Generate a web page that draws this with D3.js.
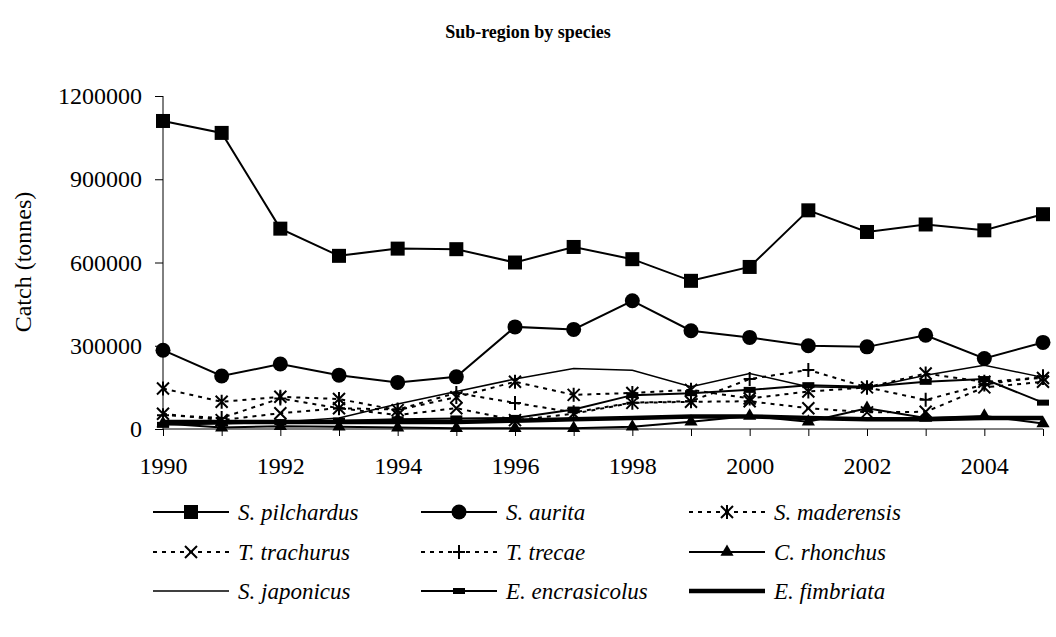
<!DOCTYPE html>
<html>
<head>
<meta charset="utf-8">
<script src="https://cdn.jsdelivr.net/npm/d3@7"></script>
<style>
  body { margin: 0; background: #fff; }
  svg text { font-family: "Liberation Serif", "Times New Roman", Times, serif; }
</style>
</head>
<body>
<svg id="chart" width="1056" height="637"></svg>
<script>
const years = [1990, 1991, 1992, 1993, 1994, 1995, 1996, 1997, 1998, 1999, 2000, 2001, 2002, 2003, 2004, 2005]
const yTicks = [0, 300000, 600000, 900000, 1200000]

// catch in tonnes
const pilchardus = [1110000, 1067000, 722000, 624000, 650000, 648000, 600000, 656000, 612000, 534000, 584000, 788000, 710000, 737000, 716000, 774000]
const aurita = [284000, 191000, 234000, 194000, 168000, 188000, 368000, 359000, 462000, 354000, 330000, 300000, 296000, 338000, 254000, 312000]
const maderensis = [146000, 98000, 116000, 108000, 68000, 115000, 170000, 123000, 130000, 141000, 110000, 135000, 150000, 200000, 170000, 184000]
const trachurus = [55000, 32000, 57000, 75000, 50000, 75000, 32000, 55000, 94000, 98000, 100000, 75000, 60000, 62000, 150000, 170000]
const trecae = [50000, 40000, 110000, 75000, 70000, 130000, 94000, 60000, 95000, 100000, 180000, 213000, 150000, 105000, 160000, 190000]
const rhonchus = [20000, 5000, 10000, 8000, 5000, 3000, 3000, 3000, 8000, 26000, 47000, 26000, 75000, 40000, 47000, 20000]
const japonicus = [30000, 20000, 25000, 40000, 90000, 135000, 180000, 218000, 212000, 152000, 200000, 152000, 148000, 194000, 230000, 186000]
const encrasicolus = [15000, 20000, 25000, 30000, 35000, 38000, 40000, 70000, 122000, 129000, 141000, 158000, 152000, 170000, 180000, 95000]
const fimbriata = [25000, 25000, 25000, 25000, 25000, 25000, 30000, 35000, 40000, 45000, 45000, 40000, 35000, 35000, 40000, 40000]

const series = [
  { name: "S. pilchardus", values: pilchardus, marker: "square", width: 2, dash: null },
  { name: "S. aurita", values: aurita, marker: "circle", width: 2, dash: null },
  { name: "S. maderensis", values: maderensis, marker: "star", width: 2, dash: "4,5" },
  { name: "T. trachurus", values: trachurus, marker: "x", width: 2, dash: "4,5" },
  { name: "T. trecae", values: trecae, marker: "plus", width: 2, dash: "4,5" },
  { name: "C. rhonchus", values: rhonchus, marker: "triangle", width: 2, dash: null },
  { name: "S. japonicus", values: japonicus, marker: null, width: 1.5, dash: null },
  { name: "E. encrasicolus", values: encrasicolus, marker: "dash", width: 2, dash: null },
  { name: "E. fimbriata", values: fimbriata, marker: null, width: 4.5, dash: null }
]

const serif = "'Liberation Serif', 'Times New Roman', Times, serif"
const svg = d3.select("#chart")

let x = d3.scaleLinear()
  .domain([1990, 2005])
  .range([163, 1043])

let y = d3.scaleLinear()
  .domain([0, 1200000])
  .range([429, 96])

// title
svg.append("text")
  .attr("x", 528).attr("y", 38)
  .attr("text-anchor", "middle")
  .style("font-size", "18px")
  .style("font-weight", "bold")
  .text("Sub-region by species")

// y axis
let yAxis = svg.append("g")
  .attr("transform", "translate(163,0)")
  .attr("font-family", serif)
  .call(d3.axisLeft(y).tickValues(yTicks).tickSize(8).tickPadding(13).tickFormat(d3.format("d")))
yAxis.selectAll("text").style("font-size", "24px").style("font-family", serif)
yAxis.select(".domain").attr("d", "M0,96V429")

svg.append("text")
  .attr("transform", "translate(31,262) rotate(-90)")
  .attr("text-anchor", "middle")
  .style("font-size", "24px")
  .text("Catch (tonnes)")

// x axis
let xAxis = svg.append("g")
  .attr("transform", "translate(0,429)")
  .attr("font-family", serif)
  .call(d3.axisBottom(x).tickValues(years).tickSize(7).tickPadding(21)
    .tickFormat(d => d % 2 === 0 ? d : ""))
xAxis.selectAll("text").style("font-size", "24px").style("font-family", serif)
xAxis.select(".domain").attr("d", "M163,0H1043")

// markers
function drawMarker(g, type, cx, cy) {
  if (type === "square") {
    g.append("rect").attr("x", cx - 7).attr("y", cy - 7).attr("width", 14).attr("height", 14).attr("fill", "#000")
  } else if (type === "circle") {
    g.append("circle").attr("cx", cx).attr("cy", cy).attr("r", 7.5).attr("fill", "#000")
  } else if (type === "triangle") {
    g.append("path").attr("d", d3.symbol(d3.symbolTriangle, 75)()).attr("transform", `translate(${cx},${cy})`).attr("fill", "#000")
  } else if (type === "dash") {
    g.append("rect").attr("x", cx - 6).attr("y", cy - 3).attr("width", 12).attr("height", 6).attr("fill", "#000")
  } else {
    let s = 6
    let p = ""
    if (type === "x" || type === "star") p += `M${cx - s},${cy - s}L${cx + s},${cy + s}M${cx - s},${cy + s}L${cx + s},${cy - s}`
    if (type === "plus") p += `M${cx - s},${cy}L${cx + s},${cy}`
    if (type === "plus" || type === "star") p += `M${cx},${cy - s - 1}L${cx},${cy + s + 1}`
    g.append("path").attr("d", p).attr("stroke", "#000").attr("stroke-width", 2).attr("fill", "none")
  }
}

let line = d3.line()
  .x((d, i) => x(years[i]))
  .y(d => y(d))

// draw from back to front so the big series stay on top
series.slice().reverse().forEach(s => {
  let g = svg.append("g")
  g.append("path")
    .datum(s.values)
    .attr("d", line)
    .attr("fill", "none")
    .attr("stroke", "#000")
    .attr("stroke-width", s.width)
    .attr("stroke-dasharray", s.dash)
  if (s.marker) {
    s.values.forEach((v, i) => drawMarker(g, s.marker, x(years[i]), y(v)))
  }
})

// legend
let colX = [153, 421, 689]
let rowY = [512, 552, 591]
series.forEach((s, i) => {
  let lx = colX[i % 3]
  let ly = rowY[Math.floor(i / 3)]
  let g = svg.append("g")
  g.append("line")
    .attr("x1", lx).attr("x2", lx + 76)
    .attr("y1", ly).attr("y2", ly)
    .attr("stroke", "#000")
    .attr("stroke-width", s.width)
    .attr("stroke-dasharray", s.dash)
  if (s.marker) drawMarker(g, s.marker, lx + 38, ly)
  g.append("text")
    .attr("x", lx + 85).attr("y", ly + 8)
    .style("font-size", "23px")
    .style("font-style", "italic")
    .text(s.name)
})
</script>
</body>
</html>
